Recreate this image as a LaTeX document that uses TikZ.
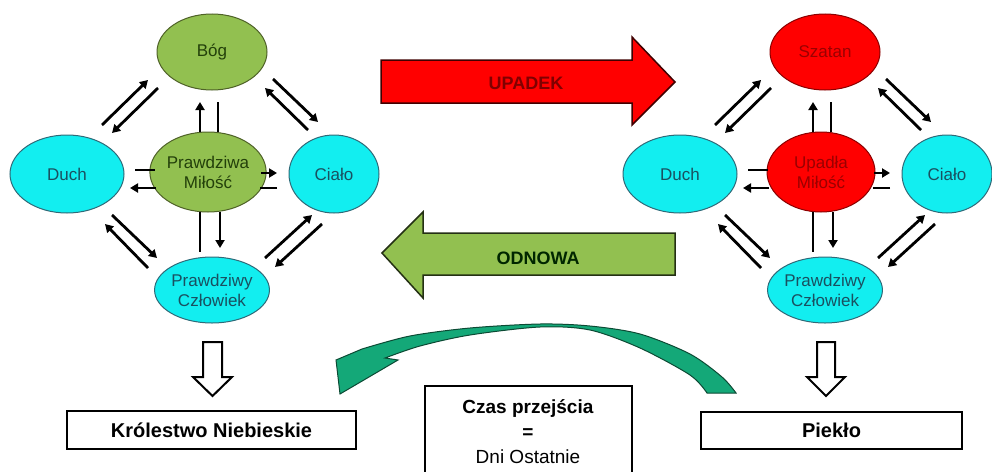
\documentclass[tikz,border=0pt]{standalone}
\usepackage{fontspec}
\setmainfont{Liberation Sans}
\usetikzlibrary{arrows.meta,shapes.geometric,calc}
\definecolor{cyanfill}{HTML}{12EEF0}
\definecolor{cyanline}{HTML}{2F6A78}
\definecolor{cyantext}{HTML}{1A5060}
\definecolor{greenfill}{HTML}{92C050}
\definecolor{greenline}{HTML}{4F6228}
\definecolor{greentext}{HTML}{23400A}
\definecolor{redfill}{HTML}{FF0000}
\definecolor{redline}{HTML}{8B0000}
\definecolor{redtext}{HTML}{9A0000}
\definecolor{curvefill}{HTML}{14A878}
\definecolor{curveline}{HTML}{0C4A34}
\tikzset{
  ell/.style={ellipse, line width=1pt, inner sep=0pt, align=center,
    font=\fontsize{17}{20}\selectfont},
  cyanE/.style={ell, fill=cyanfill, draw=cyanline, text=cyantext},
  greenE/.style={ell, fill=greenfill, draw=greenline, text=greentext},
  redE/.style={ell, fill=redfill, draw=redline, text=redtext},
  conn/.style={line width=2.8pt, black},
  arr/.style={conn, -{Triangle[length=8pt,width=9pt]}},
  bigarrow/.style={line width=1.5pt, line join=miter},
  hollow/.style={draw=black, fill=white, line width=2pt, line join=miter},
  framebox/.style={draw=black, line width=2pt, fill=white, inner sep=0pt,
    font=\fontsize{20}{24}\selectfont\bfseries},
}
\newcommand\drawdiagram[5]{%
  \begin{scope}[xshift=#5]
  \node[#1, minimum width=110, minimum height=76] (#3T) at (212,52) {#2};
  \node[cyanE, minimum width=114, minimum height=78] (#3D) at (67,174) {Duch};
  \node[#4, minimum width=108, minimum height=80] (#3M) at (208,172) {\mtext};
  \node[cyanE, minimum width=90, minimum height=78] (#3C) at (334,174) {Ciało};
  \node[cyanE, minimum width=110, minimum height=66] (#3P) at (212,290) {Prawdziwy\\Człowiek};
  \end{scope}
  % Top - Duch
  \draw[arr] ($(#3D)+(35,-49)$) -- ($(#3T)+(-64,28)$);
  \draw[arr] ($(#3T)+(-54,36)$) -- ($(#3D)+(45,-41)$);
  % Top - Ciało
  \draw[arr] ($(#3T)+(61,27)$) -- ($(#3C)+(-16,-52)$);
  \draw[arr] ($(#3C)+(-26,-44)$) -- ($(#3T)+(53,36)$);
  % Middle - Top
  \draw[arr] ($(#3M)+(-8,-40)$) -- ($(#3T)+(-12,50)$);
  \draw[conn] ($(#3T)+(6,50)$) -- ($(#3M)+(10,-40)$);
  % Middle - Duch
  \draw[conn] ($(#3D)+(68,-4)$) -- ($(#3M)+(-53,-2)$);
  \draw[arr] ($(#3M)+(-52,16)$) -- ($(#3D)+(63,14)$);
  % Middle - Ciało
  \draw[arr] ($(#3M)+(53,1)$) -- ($(#3C)+(-57,-1)$);
  \draw[conn] ($(#3C)+(-57,14)$) -- ($(#3M)+(52,16)$);
  % Middle - Człowiek
  \draw[conn] ($(#3M)+(-8,40)$) -- ($(#3P)+(-12,-38)$);
  \draw[arr] ($(#3M)+(12,40)$) -- ($(#3P)+(8,-42)$);
  % Duch - Człowiek
  \draw[arr] ($(#3D)+(45,41)$) -- ($(#3P)+(-55,-32)$);
  \draw[arr] ($(#3P)+(-64,-22)$) -- ($(#3D)+(38,50)$);
  % Ciało - Człowiek
  \draw[arr] ($(#3P)+(53,-32)$) -- ($(#3C)+(-22,41)$);
  \draw[arr] ($(#3C)+(-12,50)$) -- ($(#3P)+(63,-23)$);
}
\begin{document}
\begin{tikzpicture}[x=1pt,y=-1pt]
\useasboundingbox (0,0) rectangle (992,471);
\fill[white] (0,0) rectangle (992,471);

\def\mtext{Prawdziwa\\Miłość}
\drawdiagram{greenE}{Bóg}{L}{greenE}{0pt}
\def\mtext{Upadła\\Miłość}
\drawdiagram{redE}{Szatan}{R}{redE}{613pt}

% UPADEK arrow
\draw[bigarrow, fill=redfill, draw=black!75!red] (381,60) -- (632,60) -- (632,37) -- (675,82)
  -- (632,125) -- (632,103) -- (381,103) -- cycle;
\node[font=\fontsize{18}{20}\selectfont\bfseries, text=black!50!red] (upadek) at (526,83) {UPADEK};

% ODNOWA arrow
\draw[bigarrow, fill=greenfill, draw=black!75!greenfill] (382,253) -- (423,212) -- (423,233) -- (675,233)
  -- (675,275) -- (423,275) -- (423,298) -- cycle;
\node[font=\fontsize{18}{20}\selectfont\bfseries, text=black!85!green] (odnowa) at (538,258) {ODNOWA};

% hollow down arrows
\draw[hollow] (203,342) -- (222,342) -- (222,377) -- (232,377) -- (212.5,396) -- (193,377) -- (203,377) -- cycle;
\draw[hollow] (817,342) -- (835,342) -- (835,377) -- (845,377) -- (826,396) -- (807,377) -- (817,377) -- cycle;

% boxes
\node[framebox, minimum width=289, minimum height=38] (kn) at (211.5,430) {Królestwo Niebieskie};
\node[framebox, minimum width=261, minimum height=37] (pk) at (831.5,430.5) {Piekło};
\draw[line width=2pt] (425,480) |- (632,386) -- (632,480);
\node[align=center, font=\fontsize{19}{25}\selectfont] (czas) at (528,432)
  {\textbf{Czas przejścia}\\\textbf{=}\\Dni Ostatnie};

% curved arrow
\draw[fill=curvefill, draw=curveline, line width=1pt, line join=miter]
  (340,394) -- (336,360) -- (362,349)
  -- plot[smooth] coordinates {(362,349) (410,336) (470,328) (540,324) (590,326) (640,334) (690,354) (722,377) (736,393)}
  -- (707,393)
  -- plot[smooth] coordinates {(707,393) (690,375) (640,348) (590,330) (540,327) (470,335) (420,346) (385,358)}
  -- (398,360) -- cycle;
\end{tikzpicture}
\end{document}
